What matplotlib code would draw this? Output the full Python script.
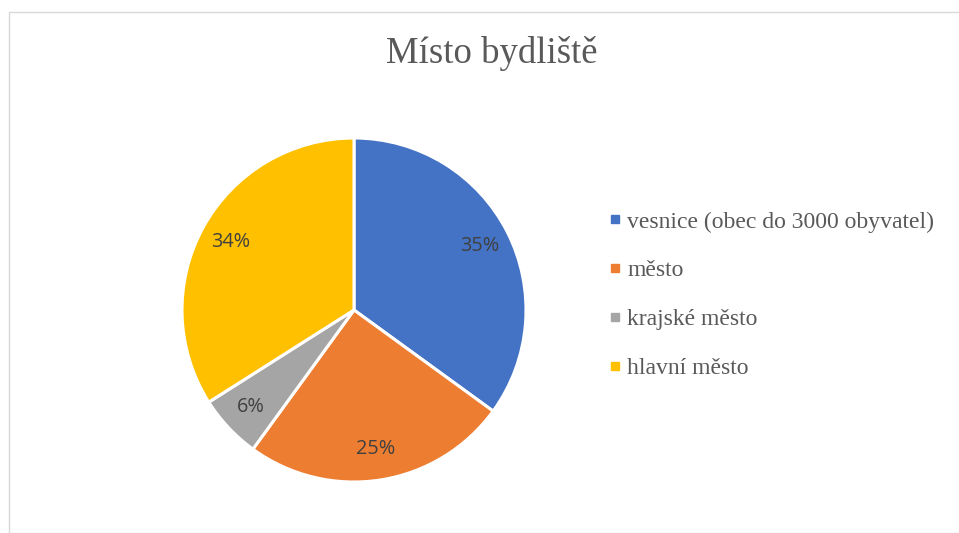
import matplotlib
matplotlib.use("Agg")
import matplotlib.pyplot as plt
from matplotlib.lines import Line2D
from matplotlib.patches import Rectangle

title = "Místo bydliště"
categories = ["vesnice (obec do 3000 obyvatel)", "město", "krajské město", "hlavní město"]
values = [35, 25, 6, 34]
colors = ["#4472C4", "#ED7D31", "#A5A5A5", "#FFC000"]

W, H = 959, 533
fig = plt.figure(figsize=(W / 100, H / 100), dpi=100)
fig.patch.set_facecolor("white")

# chart frame
fig.patches.append(Rectangle((8.5 / W, 0), 1.2, (H - 11.5) / H, transform=fig.transFigure,
                             fill=False, edgecolor="#D9D9D9", linewidth=1.0))

cx, cy, r = 354, H - 310, 172
ax = fig.add_axes([(cx - r) / W, (cy - r) / H, 2 * r / W, 2 * r / H])
wedges, texts, autotexts = ax.pie(
    values, colors=colors, startangle=90, counterclock=False,
    autopct=lambda p: f"{p:.0f}%", pctdistance=0.82,
    wedgeprops=dict(edgecolor="white", linewidth=2.2),
    textprops=dict(fontsize=14.3, color="#404040", family=["Open Sans", "DejaVu Sans"]),
)
ax.set_xlim(-1, 1)
ax.set_ylim(-1, 1)
ax.set_aspect("equal")
ax.axis("off")

fig.text(491.5 / W, 1 - 63 / H, title, ha="center", va="baseline",
         fontsize=26.5, color="#595959", family=["Liberation Serif", "DejaVu Serif"])

fs = 17
handles = [Line2D([], [], marker="s", linestyle="none", markersize=5.2,
                  markerfacecolor=c, markeredgecolor=c) for c in colors]
leg = fig.legend(handles, categories, loc="center left",
                 bbox_to_anchor=(611 / W, 1 - 295 / H), frameon=False,
                 prop=dict(family=["Liberation Serif", "DejaVu Serif"], size=fs),
                 labelcolor="#595959", handlelength=0.3, handletextpad=0.38,
                 labelspacing=1.15, borderpad=0, borderaxespad=0)

fig.savefig("out.png", dpi=100, facecolor="white")
